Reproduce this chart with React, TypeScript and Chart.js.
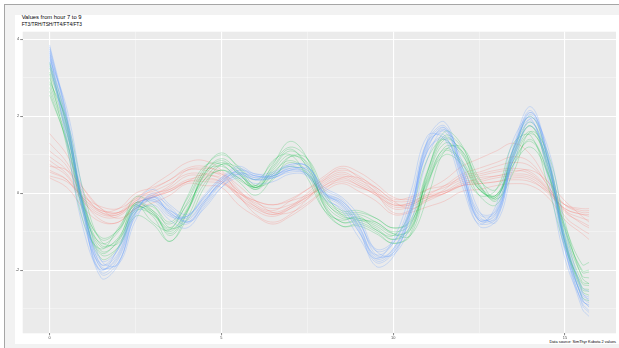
import React, { useEffect, useRef } from "react";
import { Chart, registerables } from "chart.js";

Chart.register(...registerables);

// hour offsets (x)
const hours = [0, 0.5, 1, 1.5, 2, 2.5, 3, 3.5, 4, 4.5, 5, 5.5, 6, 6.5, 7, 7.5, 8, 8.5, 9, 9.5, 10, 10.5, 11, 11.5, 12, 12.5, 13, 13.5, 14, 14.5, 15, 15.5, 15.7];

// blue group curves
const blue0 = [3.6, 1.8, -0.5, -1.95, -1.65, -0.45, -0.1, -0.5, -0.7, -0.2, 0.3, 0.55, 0.4, 0.45, 0.65, 0.6, 0.0, -0.25, -0.85, -1.65, -1.45, -0.45, 1.25, 1.6, 0.55, -0.65, -0.55, 1.05, 2.0, 0.85, -1.3, -2.7, -2.85];
const blue1 = [3.85, 2.0, -0.55, -2.2, -1.85, -0.5, -0.05, -0.55, -0.8, -0.25, 0.35, 0.65, 0.45, 0.5, 0.75, 0.7, 0.0, -0.3, -0.95, -1.9, -1.65, -0.5, 1.4, 1.85, 0.6, -0.75, -0.65, 1.2, 2.25, 0.95, -1.45, -3.0, -3.2];
const blue2 = [3.3, 1.6, -0.45, -1.75, -1.45, -0.4, -0.2, -0.45, -0.6, -0.15, 0.25, 0.45, 0.35, 0.4, 0.55, 0.5, 0.0, -0.2, -0.75, -1.45, -1.25, -0.4, 1.1, 1.4, 0.5, -0.55, -0.5, 0.9, 1.75, 0.75, -1.15, -2.45, -2.55];
const blue3 = [3.7, 1.3, -1.0, -2.0, -1.4, -0.3, -0.2, -0.6, -0.6, -0.05, 0.4, 0.55, 0.4, 0.5, 0.7, 0.45, -0.1, -0.45, -1.15, -1.7, -1.2, 0.0, 1.5, 1.4, 0.2, -0.8, -0.3, 1.4, 1.95, 0.4, -1.7, -2.8, -2.9];
const blue4 = [3.5, 2.2, -0.1, -1.75, -1.85, -0.7, -0.1, -0.35, -0.75, -0.4, 0.15, 0.5, 0.45, 0.4, 0.6, 0.65, 0.15, -0.1, -0.6, -1.5, -1.6, -0.8, 0.9, 1.65, 0.85, -0.45, -0.75, 0.7, 1.95, 1.2, -0.9, -2.55, -2.8];
const blue5 = [3.75, 1.9, -0.4, -1.85, -1.55, -0.3, 0.1, -0.3, -0.55, -0.1, 0.4, 0.7, 0.5, 0.55, 0.75, 0.7, 0.1, -0.15, -0.75, -1.5, -1.3, -0.35, 1.35, 1.75, 0.7, -0.5, -0.45, 1.15, 2.1, 1.0, -1.2, -2.6, -2.7];
const blue6 = [3.45, 1.65, -0.65, -2.1, -1.8, -0.6, -0.3, -0.7, -0.9, -0.35, 0.15, 0.4, 0.25, 0.3, 0.5, 0.45, -0.15, -0.4, -1.0, -1.8, -1.55, -0.6, 1.1, 1.45, 0.4, -0.85, -0.7, 0.9, 1.85, 0.7, -1.45, -2.85, -3.05];
const blue7 = [3.65, 2.05, -0.3, -1.9, -1.8, -0.55, 0.0, -0.4, -0.75, -0.3, 0.25, 0.6, 0.5, 0.45, 0.7, 0.7, 0.05, -0.2, -0.7, -1.6, -1.55, -0.6, 1.15, 1.7, 0.7, -0.6, -0.65, 0.95, 2.1, 1.05, -1.15, -2.75, -2.95];
const blue8 = [3.4, 1.45, -0.8, -1.85, -1.45, -0.35, -0.15, -0.55, -0.6, -0.1, 0.35, 0.5, 0.35, 0.45, 0.6, 0.5, -0.05, -0.35, -1.0, -1.6, -1.3, -0.2, 1.35, 1.5, 0.35, -0.7, -0.4, 1.2, 1.9, 0.6, -1.5, -2.65, -2.75];
const blue9 = [3.55, 1.75, -0.6, -2.05, -1.7, -0.5, -0.1, -0.45, -0.65, -0.2, 0.3, 0.6, 0.45, 0.45, 0.65, 0.6, 0.0, -0.3, -0.9, -1.75, -1.5, -0.5, 1.2, 1.65, 0.6, -0.7, -0.6, 1.0, 2.05, 0.9, -1.35, -2.9, -3.1];
const blue10 = [3.8, 1.95, -0.45, -1.95, -1.6, -0.4, -0.15, -0.5, -0.75, -0.25, 0.25, 0.5, 0.35, 0.4, 0.6, 0.55, -0.05, -0.25, -0.85, -1.7, -1.45, -0.4, 1.3, 1.7, 0.5, -0.7, -0.5, 1.1, 2.15, 0.85, -1.3, -2.75, -2.95];

// green group curves
const green0 = [3.0, 1.6, -0.4, -1.4, -1.15, -0.35, -0.55, -1.0, -0.4, 0.45, 0.8, 0.5, 0.15, 0.6, 1.0, 0.7, -0.25, -0.65, -0.65, -0.85, -1.1, -0.9, 0.4, 1.3, 1.0, 0.15, -0.1, 0.95, 1.6, 0.7, -1.1, -2.3, -2.35];
const green1 = [3.4, 1.9, -0.45, -1.7, -1.4, -0.35, -0.6, -1.25, -0.5, 0.6, 1.05, 0.65, 0.15, 0.75, 1.35, 0.9, -0.35, -0.85, -0.8, -1.0, -1.3, -1.05, 0.55, 1.6, 1.25, 0.2, -0.15, 1.15, 2.0, 0.9, -1.3, -2.7, -2.8];
const green2 = [2.55, 1.35, -0.35, -1.15, -0.95, -0.3, -0.45, -0.8, -0.3, 0.35, 0.6, 0.4, 0.1, 0.45, 0.7, 0.5, -0.15, -0.5, -0.5, -0.65, -0.9, -0.75, 0.3, 1.0, 0.75, 0.1, -0.05, 0.75, 1.2, 0.5, -0.85, -1.85, -1.8];
const green3 = [3.1, 1.2, -0.8, -1.45, -0.9, -0.3, -0.75, -0.95, -0.1, 0.7, 0.75, 0.35, 0.2, 0.85, 1.0, 0.4, -0.45, -0.7, -0.6, -0.95, -1.1, -0.5, 0.9, 1.4, 0.7, -0.05, 0.1, 1.3, 1.5, 0.2, -1.4, -2.35, -2.4];
const green4 = [2.9, 1.9, 0.0, -1.25, -1.3, -0.5, -0.35, -0.9, -0.7, 0.15, 0.75, 0.65, 0.2, 0.35, 0.95, 0.9, 0.05, -0.55, -0.7, -0.75, -1.05, -1.1, -0.1, 1.1, 1.2, 0.4, -0.15, 0.55, 1.6, 1.05, -0.75, -2.2, -2.35];
const green5 = [3.25, 1.8, -0.25, -1.2, -0.95, -0.1, -0.3, -0.75, -0.15, 0.65, 1.0, 0.7, 0.35, 0.8, 1.2, 0.9, -0.05, -0.45, -0.45, -0.65, -0.9, -0.7, 0.6, 1.5, 1.2, 0.35, 0.1, 1.15, 1.85, 0.9, -0.9, -2.05, -2.05];
const green6 = [2.75, 1.4, -0.6, -1.6, -1.4, -0.6, -0.8, -1.25, -0.65, 0.25, 0.6, 0.3, -0.05, 0.4, 0.8, 0.5, -0.45, -0.85, -0.85, -1.05, -1.3, -1.1, 0.2, 1.1, 0.8, -0.05, -0.3, 0.75, 1.4, 0.5, -1.3, -2.55, -2.65];
const green7 = [3.15, 1.75, -0.35, -1.5, -1.25, -0.4, -0.5, -1.1, -0.5, 0.5, 0.9, 0.55, 0.1, 0.65, 1.1, 0.75, -0.3, -0.75, -0.7, -0.9, -1.2, -0.95, 0.45, 1.4, 1.1, 0.2, -0.05, 1.0, 1.75, 0.75, -1.2, -2.5, -2.55];
const green8 = [2.65, 1.3, -0.5, -1.3, -1.0, -0.25, -0.5, -0.9, -0.25, 0.55, 0.7, 0.4, 0.15, 0.55, 0.85, 0.55, -0.2, -0.55, -0.55, -0.75, -1.0, -0.8, 0.35, 1.15, 0.85, 0.1, -0.1, 0.85, 1.35, 0.55, -0.95, -2.0, -2.0];
const green9 = [3.35, 1.7, -0.5, -1.55, -1.2, -0.25, -0.45, -1.05, -0.45, 0.5, 0.85, 0.5, 0.2, 0.7, 1.15, 0.65, -0.35, -0.75, -0.75, -0.95, -1.2, -0.85, 0.55, 1.45, 1.05, 0.1, -0.05, 1.05, 1.75, 0.6, -1.25, -2.45, -2.5];
const green10 = [2.85, 1.55, -0.3, -1.35, -1.2, -0.45, -0.55, -0.95, -0.45, 0.35, 0.75, 0.55, 0.15, 0.5, 0.95, 0.8, -0.15, -0.6, -0.65, -0.8, -1.05, -0.95, 0.25, 1.2, 1.1, 0.25, -0.2, 0.85, 1.55, 0.85, -1.0, -2.15, -2.2];

// red group curves
const red0 = [0.75, 0.45, -0.2, -0.55, -0.55, -0.2, -0.05, 0.15, 0.45, 0.45, 0.4, -0.05, -0.35, -0.5, -0.35, -0.1, 0.25, 0.45, 0.25, 0.0, -0.35, -0.3, -0.1, 0.05, 0.3, 0.35, 0.45, 0.5, 0.45, 0.1, -0.45, -0.65, -0.7];
const red1 = [1.1, 0.7, -0.2, -0.7, -0.75, -0.3, -0.05, 0.2, 0.6, 0.65, 0.55, -0.05, -0.55, -0.75, -0.55, -0.15, 0.35, 0.65, 0.4, 0.0, -0.5, -0.45, -0.15, 0.1, 0.45, 0.55, 0.7, 0.8, 0.7, 0.2, -0.6, -0.95, -1.05];
const red2 = [0.45, 0.3, -0.1, -0.35, -0.4, -0.15, 0.0, 0.1, 0.3, 0.3, 0.25, 0.0, -0.2, -0.3, -0.2, -0.05, 0.15, 0.3, 0.15, 0.0, -0.2, -0.2, -0.05, 0.05, 0.2, 0.25, 0.3, 0.35, 0.3, 0.05, -0.3, -0.4, -0.4];
const red3 = [1.55, 1.0, 0.1, -0.4, -0.5, -0.15, 0.2, 0.5, 0.8, 0.85, 0.6, 0.1, -0.3, -0.45, -0.2, 0.1, 0.45, 0.7, 0.55, 0.25, -0.1, -0.15, 0.1, 0.35, 0.7, 0.9, 1.1, 1.3, 1.0, 0.3, -0.3, -0.5, -0.5];
const red4 = [0.7, 0.6, 0.1, -0.4, -0.65, -0.4, -0.1, 0.05, 0.3, 0.5, 0.5, 0.2, -0.2, -0.5, -0.5, -0.25, 0.1, 0.4, 0.4, 0.15, -0.2, -0.4, -0.2, 0.0, 0.2, 0.4, 0.45, 0.55, 0.6, 0.3, -0.2, -0.6, -0.75];
const red5 = [0.4, 0.15, -0.4, -0.75, -0.75, -0.4, -0.25, -0.05, 0.25, 0.2, 0.15, -0.3, -0.6, -0.8, -0.6, -0.3, 0.05, 0.25, 0.05, -0.2, -0.55, -0.5, -0.35, -0.2, 0.05, 0.1, 0.2, 0.25, 0.2, -0.1, -0.7, -1.05, -1.2];
const red6 = [0.95, 0.6, -0.05, -0.45, -0.4, 0.0, 0.15, 0.35, 0.6, 0.6, 0.45, 0.05, -0.2, -0.3, -0.15, 0.1, 0.35, 0.55, 0.35, 0.15, -0.15, -0.1, 0.1, 0.2, 0.4, 0.5, 0.6, 0.65, 0.55, 0.15, -0.3, -0.45, -0.45];
const red7 = [0.6, 0.35, -0.25, -0.6, -0.6, -0.25, -0.1, 0.1, 0.35, 0.4, 0.3, -0.1, -0.4, -0.55, -0.4, -0.15, 0.2, 0.4, 0.2, -0.05, -0.4, -0.35, -0.15, 0.0, 0.25, 0.3, 0.4, 0.45, 0.4, 0.05, -0.5, -0.75, -0.85];
const red8 = [0.85, 0.5, -0.15, -0.5, -0.5, -0.1, 0.05, 0.25, 0.5, 0.5, 0.35, -0.1, -0.45, -0.6, -0.4, -0.05, 0.3, 0.5, 0.3, 0.05, -0.3, -0.25, 0.0, 0.15, 0.35, 0.45, 0.55, 0.6, 0.5, 0.1, -0.4, -0.55, -0.6];
const red9 = [1.3, 0.8, 0.0, -0.5, -0.55, -0.2, 0.1, 0.35, 0.65, 0.7, 0.5, 0.05, -0.35, -0.55, -0.35, 0.0, 0.4, 0.6, 0.45, 0.1, -0.25, -0.3, -0.05, 0.2, 0.5, 0.65, 0.8, 0.95, 0.8, 0.2, -0.45, -0.8, -0.9];
const red10 = [0.55, 0.35, -0.15, -0.45, -0.5, -0.25, -0.1, 0.05, 0.3, 0.35, 0.3, 0.0, -0.25, -0.4, -0.3, -0.1, 0.2, 0.35, 0.2, -0.05, -0.3, -0.25, -0.1, 0.0, 0.2, 0.25, 0.3, 0.4, 0.35, 0.0, -0.4, -0.55, -0.55];

const blueCurves = [blue0, blue1, blue2, blue3, blue4, blue5, blue6, blue7, blue8, blue9, blue10];
const greenCurves = [green0, green1, green2, green3, green4, green5, green6, green7, green8, green9, green10];
const redCurves = [red0, red1, red2, red3, red4, red5, red6, red7, red8, red9, red10];

// axis breaks and labels
const xBreaks = [0, 2.5, 5, 7.5, 10, 12.5, 15];
const xBreakLabels = ["0", "", "5", "", "10", "", "15"];
const yBreaks = [-3, -2, -1, 0, 1, 2, 3, 4];
const yBreakLabels = ["", "-2", "", "0", "", "2", "", "4"];

const titleText = "Values from hour 7 to 9";
const subtitleText = "FT3/TRH/TSH/TT4/FT4/FT3";
const captionText = "Data source: SimThyr Kubota 2 values";

const FONT = "'Liberation Sans', Arial, Helvetica, sans-serif";

const panelBg = {
  id: "panelBg",
  beforeDraw(chart: any) {
    const { ctx, chartArea } = chart;
    ctx.save();
    ctx.fillStyle = "#ebebeb";
    ctx.fillRect(chartArea.left, chartArea.top, chartArea.right - chartArea.left, chartArea.bottom - chartArea.top);
    ctx.restore();
  },
};

function makeSets(curves: number[][], rgb: string, alpha: number) {
  return curves.map((c) => ({
    data: hours.map((h, i) => ({ x: h, y: c[i] })),
    borderColor: `rgba(${rgb},${alpha})`,
    borderWidth: 0.85,
    pointRadius: 0,
    tension: 0.4,
    fill: false,
  }));
}

export default function App() {
  const ref = useRef<HTMLCanvasElement>(null);

  useEffect(() => {
    if (!ref.current) return;
    const isMajor = (v: number, list: number[], labels: string[]) => {
      const i = list.indexOf(v);
      return i >= 0 && labels[i] !== "";
    };
    const chart = new Chart(ref.current, {
      type: "line",
      data: {
        datasets: [
          ...makeSets(blueCurves, "97,156,255", 0.32),
          ...makeSets(greenCurves, "0,186,56", 0.27),
          ...makeSets(redCurves, "248,118,109", 0.3),
        ],
      },
      options: {
        responsive: false,
        animation: false,
        events: [],
        layout: { padding: { top: 31.7, right: 3, bottom: 0, left: 0 } },
        plugins: { legend: { display: false }, tooltip: { enabled: false }, title: { display: false } },
        scales: {
          x: {
            type: "linear",
            min: -0.785,
            max: 16.485,
            afterBuildTicks: (s: any) => {
              s.ticks = xBreaks.map((v) => ({ value: v }));
            },
            afterFit: (s: any) => {
              s.height = 14.7;
            },
            border: { display: false },
            grid: {
              color: (c: any) => (isMajor(c.tick?.value, xBreaks, xBreakLabels) ? "#ffffff" : "rgba(255,255,255,0.7)"),
              lineWidth: (c: any) => (isMajor(c.tick?.value, xBreaks, xBreakLabels) ? 1.1 : 0.55),
              tickColor: (c: any) => (isMajor(c.tick?.value, xBreaks, xBreakLabels) ? "#333333" : "rgba(0,0,0,0)"),
              tickLength: 2,
              tickWidth: 0.6,
            },
            ticks: {
              autoSkip: false,
              maxRotation: 0,
              padding: 0.5,
              color: "#4d4d4d",
              font: { size: 3.9, family: FONT },
              callback: (_v: any, i: number) => xBreakLabels[i],
            },
          },
          y: {
            type: "linear",
            min: -3.64,
            max: 4.2,
            afterBuildTicks: (s: any) => {
              s.ticks = yBreaks.map((v) => ({ value: v }));
            },
            afterFit: (s: any) => {
              s.width = 22.7;
            },
            border: { display: false },
            grid: {
              color: (c: any) => (isMajor(c.tick?.value, yBreaks, yBreakLabels) ? "#ffffff" : "rgba(255,255,255,0.7)"),
              lineWidth: (c: any) => (isMajor(c.tick?.value, yBreaks, yBreakLabels) ? 1.1 : 0.55),
              tickColor: (c: any) => (isMajor(c.tick?.value, yBreaks, yBreakLabels) ? "#333333" : "rgba(0,0,0,0)"),
              tickLength: 2.5,
              tickWidth: 0.6,
            },
            ticks: {
              autoSkip: false,
              padding: 1,
              color: "#4d4d4d",
              font: { size: 3.9, family: FONT },
              callback: (_v: any, i: number) => yBreakLabels[i],
            },
          },
        },
      },
      plugins: [panelBg],
    } as any);
    return () => chart.destroy();
  }, []);

  return (
    <div style={{ position: "fixed", left: 0, top: 0, width: 619, height: 348, background: "#ffffff", overflow: "hidden", fontFamily: FONT }}>
      <div
        style={{
          position: "absolute",
          left: 4,
          top: 4,
          width: 615,
          height: 344,
          background: "#f2f2f2",
          borderLeft: "1px solid #a6a6a6",
          borderTop: "1px solid #a6a6a6",
          boxSizing: "border-box",
        }}
      />
      <div style={{ position: "absolute", left: 15, top: 15, width: 604, height: 329, background: "#ffffff" }} />
      <div style={{ position: "absolute", left: 21.7, top: 15.4, fontSize: 5.8, lineHeight: "5.8px", color: "#000", whiteSpace: "nowrap" }}>{titleText}</div>
      <div style={{ position: "absolute", left: 21.7, top: 23.4, fontSize: 4.8, lineHeight: "4.8px", color: "#000", whiteSpace: "nowrap" }}>{subtitleText}</div>
      <div style={{ position: "absolute", right: 3, top: 340.3, fontSize: 3.9, lineHeight: "3.9px", color: "#000", whiteSpace: "nowrap" }}>{captionText}</div>
      <canvas ref={ref} width={619} height={348} style={{ position: "absolute", left: 0, top: 0, width: 619, height: 348 }} />
    </div>
  );
}
